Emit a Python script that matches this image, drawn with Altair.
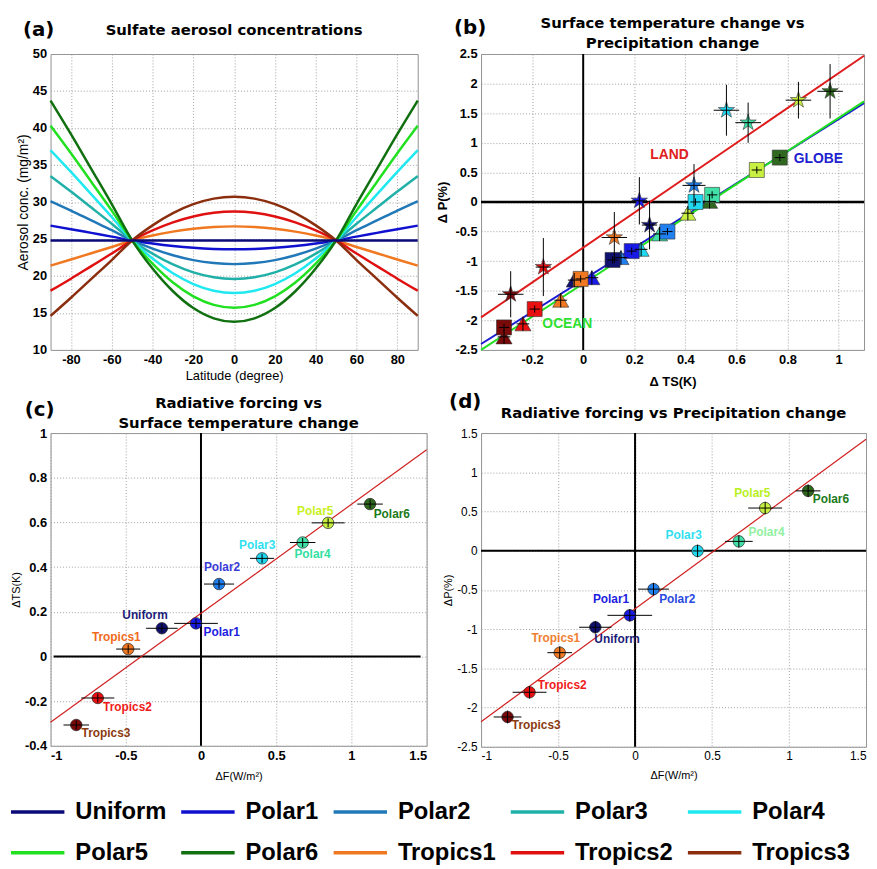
import altair as alt
import pandas as pd

# ---------------- data ----------------
names = ["Uniform", "Polar1", "Polar2", "Polar3", "Polar4", "Polar5", "Polar6",
         "Tropics1", "Tropics2", "Tropics3"]
line_colors = ["#0a0a78", "#1010d0", "#2078b8", "#20b0a8", "#20e8f0", "#20e020",
               "#107010", "#f07820", "#e01010", "#8b2e0e"]
marker_colors = ["#10106e", "#1a1ae6", "#2080f0", "#20d8f0", "#40e0a8", "#c8f040",
                 "#306820", "#f07820", "#e81010", "#7a0a0a"]
label_colors_c = ["#1c1c78", "#2020e0", "#3a3ad8", "#30e0f0", "#30e0a0", "#c8f020",
                  "#1a7a1a", "#f06a1a", "#f01a1a", "#8b3a10"]
label_colors_d = ["#1c1c78", "#2020e0", "#2a4ae0", "#30e0f0", "#90f0a0", "#b8f020",
                  "#1a7a1a", "#f08030", "#f01a1a", "#8b3a10"]

# (a) latitude profiles of sulfate aerosol (mg/m2)
lat = [-90, -80, -70, -60, -50, -40, -30, -20, -10, 0, 10, 20, 30, 40, 50, 60, 70, 80, 90]
conc = {
    "Uniform":  [24.8, 24.8, 24.8, 24.8, 24.8, 24.8, 24.8, 24.8, 24.8, 24.8, 24.8, 24.8, 24.8, 24.8, 24.8, 24.8, 24.8, 24.8, 24.8],
    "Polar1":   [26.8, 26.32, 25.82, 25.32, 24.8, 24.39, 24.05, 23.8, 23.65, 23.6, 23.65, 23.8, 24.05, 24.39, 24.8, 25.32, 25.82, 26.32, 26.8],
    "Polar2":   [30.1, 28.83, 27.5, 26.18, 24.8, 23.7, 22.8, 22.14, 21.74, 21.6, 21.74, 22.14, 22.8, 23.7, 24.8, 26.18, 27.5, 28.83, 30.1],
    "Polar3":   [33.5, 31.41, 29.24, 27.06, 24.8, 23.01, 21.55, 20.48, 19.82, 19.6, 19.82, 20.48, 21.55, 23.01, 24.8, 27.06, 29.24, 31.41, 33.5],
    "Polar4":   [37.0, 34.07, 31.02, 27.97, 24.8, 22.35, 20.36, 18.9, 18.0, 17.7, 18.0, 18.9, 20.36, 22.35, 24.8, 27.97, 31.02, 34.07, 37.0],
    "Polar5":   [40.3, 36.58, 32.71, 28.83, 24.8, 21.66, 19.11, 17.24, 16.09, 15.7, 16.09, 17.24, 19.11, 21.66, 24.8, 28.83, 32.71, 36.58, 40.3],
    "Polar6":   [43.7, 39.16, 34.44, 29.71, 24.8, 21.0, 17.93, 15.66, 14.27, 13.8, 14.27, 15.66, 17.93, 21.0, 24.8, 29.71, 34.44, 39.16, 43.7],
    "Tropics1": [21.4, 22.22, 23.07, 23.92, 24.8, 25.46, 25.99, 26.38, 26.62, 26.7, 26.62, 26.38, 25.99, 25.46, 24.8, 23.92, 23.07, 22.22, 21.4],
    "Tropics2": [18.0, 19.63, 21.33, 23.03, 24.8, 26.15, 27.24, 28.04, 28.53, 28.7, 28.53, 28.04, 27.24, 26.15, 24.8, 23.03, 21.33, 19.63, 18.0],
    "Tropics3": [14.6, 17.05, 19.6, 22.15, 24.8, 26.84, 28.49, 29.7, 30.45, 30.7, 30.45, 29.7, 28.49, 26.84, 24.8, 22.15, 19.6, 17.05, 14.6],
}

# (b) surface temperature change vs precipitation change
land_ts = [0.26, 0.22, 0.434, 0.561, 0.646, 0.843, 0.967, 0.122, -0.156, -0.284]
land_p = [-0.39, 0.02, 0.28, 1.55, 1.34, 1.72, 1.87, -0.60, -1.10, -1.56]
land_ts_err = [0.03, 0.03, 0.045, 0.05, 0.05, 0.05, 0.05, 0.05, 0.03, 0.05]
land_p_err = [0.41, 0.40, 0.36, 0.43, 0.34, 0.31, 0.46, 0.43, 0.49, 0.39]
ocean_ts = [-0.035, 0.034, 0.148, 0.227, 0.299, 0.41, 0.495, -0.088, -0.236, -0.31]
ocean_p = [-1.32, -1.28, -0.94, -0.80, -0.54, -0.19, 0.01, -1.66, -2.06, -2.28]
ocean_ts_err = [0.025, 0.025, 0.025, 0.025, 0.025, 0.025, 0.025, 0.025, 0.025, 0.025]
ocean_p_err = [0.12, 0.12, 0.12, 0.12, 0.12, 0.12, 0.12, 0.12, 0.12, 0.12]
globe_ts = [0.115, 0.19, 0.33, 0.44, 0.505, 0.68, 0.77, -0.01, -0.19, -0.31]
globe_p = [-0.98, -0.83, -0.50, 0.0, 0.12, 0.54, 0.75, -1.30, -1.81, -2.12]
globe_ts_err = [0.02, 0.02, 0.02, 0.02, 0.02, 0.02, 0.02, 0.02, 0.02, 0.02]
globe_p_err = [0.06, 0.06, 0.06, 0.06, 0.06, 0.06, 0.06, 0.06, 0.06, 0.06]
fit_b_ts = [-0.4, 1.1]
fit_land = [-1.95, 2.47]
fit_globe = [-2.40, 1.67]
fit_ocean = [-2.50, 1.70]

# (c), (d) radiative forcing vs temperature / precipitation change
dF_c = [-0.26, -0.033, 0.12, 0.406, 0.676, 0.845, 1.124, -0.484, -0.686, -0.829]
dTS_c = [0.126, 0.148, 0.324, 0.439, 0.51, 0.598, 0.682, 0.033, -0.186, -0.307]
dF_err_c = [0.105, 0.145, 0.10, 0.08, 0.085, 0.11, 0.085, 0.08, 0.11, 0.085]
dTS_err_c = [0.02, 0.02, 0.02, 0.02, 0.02, 0.02, 0.02, 0.02, 0.02, 0.02]
dF_d = [-0.258, -0.034, 0.12, 0.406, 0.674, 0.845, 1.124, -0.489, -0.685, -0.828]
dP_d = [-0.976, -0.824, -0.49, -0.003, 0.119, 0.544, 0.763, -1.30, -1.805, -2.12]
dF_err_d = [0.105, 0.145, 0.10, 0.03, 0.09, 0.11, 0.08, 0.08, 0.11, 0.09]
dP_err_d = [0.08, 0.08, 0.08, 0.08, 0.08, 0.08, 0.08, 0.08, 0.08, 0.08]
fit_cd_F = [-1.0, 1.5]
fit_c_TS = [-0.295, 0.925]
fit_d_P = [-2.18, 1.42]

# label placement (pixels, relative to the point)
off_c = {"Uniform": (-17, -13), "Polar1": (26, 9), "Polar2": (3, -17), "Polar3": (-5, -13),
         "Polar4": (10, 12), "Polar5": (-13, -12), "Polar6": (22, 10), "Tropics1": (-12, -12),
         "Tropics2": (30, 9), "Tropics3": (30, 8)}
off_d = {"Uniform": (22, 12), "Polar1": (-19, -16), "Polar2": (24, 10), "Polar3": (-14, -16),
         "Polar4": (28, -9), "Polar5": (-13, -15), "Polar6": (23, 8), "Tropics1": (-4, -15),
         "Tropics2": (33, -7), "Tropics3": (29, 8)}

# ---------------- helpers ----------------
FONT = "Liberation Sans"
TFONT = "DejaVu Sans"
LBL = "replace(format(datum.value, '~g'), '\u2212', '-')"
STAR = ("M0,-1L0.2245,-0.309L0.951,-0.309L0.363,0.118L0.588,0.809L0,0.382"
        "L-0.588,0.809L-0.363,0.118L-0.951,-0.309L-0.2245,-0.309Z")


def axis(values, title, lbl_w="bold", lbl_s=13, t_w="normal", t_s=13, tpad=3):
    return alt.Axis(values=values, tickCount=len(values) + 2, title=title, labelExpr=LBL,
                    labelOverlap=False,
                    labelFont=FONT, labelFontSize=lbl_s, labelFontWeight=lbl_w,
                    titleFont=FONT, titleFontSize=t_s, titleFontWeight=t_w,
                    labelPadding=4, titlePadding=tpad)


def letter(txt, x, y):
    return alt.Chart(pd.DataFrame({"t": [txt]})).mark_text(
        font=TFONT, fontSize=20, fontWeight="bold", align="center", baseline="middle",
        color="black").encode(x=alt.value(x), y=alt.value(y), text="t:N")


def head(lines, w, y):
    return alt.Chart(pd.DataFrame({"t": ["\n".join(lines)]})).mark_text(
        font=TFONT, fontSize=15, fontWeight="bold", align="center", baseline="middle",
        lineBreak="\n", lineHeight=20, color="black").encode(
        x=alt.value(w / 2), y=alt.value(y), text="t:N")


# ---------------- panel (a) ----------------
draw_order = names[1:] + names[:1]
df_a = pd.DataFrame([{"exp": n, "lat": la, "conc": v}
                     for n in draw_order for la, v in zip(lat, conc[n])])
xa = alt.X("lat:Q", scale=alt.Scale(domain=[-90, 90], nice=False, zero=False),
           axis=axis(list(range(-80, 81, 20)), "Latitude (degree)"))
ya = alt.Y("conc:Q", scale=alt.Scale(domain=[10, 50], nice=False, zero=False),
           axis=axis(list(range(10, 51, 5)), "Aerosol conc. (mg/m\u00b2)", t_s=14, tpad=2))
lines_a = alt.Chart(df_a).mark_line(strokeWidth=2.5, interpolate="monotone").encode(
    x=xa, y=ya,
    color=alt.Color("exp:N", sort=names, scale=alt.Scale(domain=names, range=line_colors),
                    legend=alt.Legend(orient="none", legendX=-25, legendY=754, columns=5,
                                      direction="horizontal",
                                      title=None, symbolType="M-3,0H3", symbolSize=324,
                                      symbolStrokeWidth=3.5, labelFont=FONT, labelFontSize=24,
                                      labelFontWeight="bold", labelColor="black",
                                      labelOffset=26, columnPadding=8, rowPadding=17,
                                      labelLimit=400, padding=0)),
)
pa = alt.layer(lines_a, letter("(a)", -12, -24),
               head(["Sulfate aerosol concentrations"], 371, -24)).properties(
    width=371, height=299)

# ---------------- panel (b) ----------------
def bframe(kind, ts, p, tse, pe):
    return pd.DataFrame({"exp": names, "kind": kind, "ts": ts, "p": p,
                         "ts_lo": [a - b for a, b in zip(ts, tse)],
                         "ts_hi": [a + b for a, b in zip(ts, tse)],
                         "p_lo": [a - b for a, b in zip(p, pe)],
                         "p_hi": [a + b for a, b in zip(p, pe)],
                         "fill": marker_colors})

df_b = pd.concat([bframe("ocean", ocean_ts, ocean_p, ocean_ts_err, ocean_p_err),
                  bframe("globe", globe_ts, globe_p, globe_ts_err, globe_p_err),
                  bframe("land", land_ts, land_p, land_ts_err, land_p_err)], ignore_index=True)
xb_scale = alt.Scale(domain=[-0.4, 1.1], nice=False, zero=False)
yb_scale = alt.Scale(domain=[-2.5, 2.5], nice=False, zero=False)
xb = alt.X("ts:Q", scale=xb_scale,
           axis=axis([-0.2, 0, 0.2, 0.4, 0.6, 0.8, 1.0], "\u0394 TS(K)", t_w="bold", tpad=9))
yb = alt.Y("p:Q", scale=yb_scale,
           axis=axis([-2.5, -2, -1.5, -1, -0.5, 0, 0.5, 1, 1.5, 2, 2.5], "\u0394 P(%)",
                     t_w="bold", tpad=6))

fit_b = pd.DataFrame({"ts": fit_b_ts * 3, "p": fit_land + fit_globe + fit_ocean,
                      "fit": ["LAND"] * 2 + ["GLOBE"] * 2 + ["OCEAN"] * 2,
                      "c": ["#e01b1b"] * 2 + ["#1a1ad0"] * 2 + ["#20e020"] * 2})
fit_lines_b = alt.Chart(fit_b).mark_line(strokeWidth=2).encode(
    x=xb, y=yb, color=alt.Color("c:N", scale=None), detail="fit:N")
zero_b_h = alt.Chart(pd.DataFrame({"p": [0]})).mark_rule(color="black", strokeWidth=2.5).encode(
    y=alt.Y("p:Q", scale=yb_scale))
zero_b_v = alt.Chart(pd.DataFrame({"ts": [0]})).mark_rule(color="black", strokeWidth=2).encode(
    x=alt.X("ts:Q", scale=xb_scale))
marks_b = alt.Chart(df_b).mark_point(filled=True, stroke="#333333", strokeWidth=0.6,
                                     opacity=1).encode(
    x=xb, y=yb,
    shape=alt.Shape("kind:N", scale=alt.Scale(domain=["land", "ocean", "globe"],
                                              range=[STAR, "triangle-up", "square"]), legend=None),
    size=alt.Size("kind:N", scale=alt.Scale(domain=["land", "ocean", "globe"],
                                            range=[300, 230, 85]), legend=None),
    fill=alt.Fill("fill:N", scale=None))
errx_b = alt.Chart(df_b).mark_rule(color="black", strokeWidth=1).encode(
    x=alt.X("ts_lo:Q", scale=xb_scale), x2="ts_hi:Q", y=alt.Y("p:Q", scale=yb_scale))
erry_b = alt.Chart(df_b).mark_rule(color="black", strokeWidth=1).encode(
    x=alt.X("ts:Q", scale=xb_scale), y=alt.Y("p_lo:Q", scale=yb_scale), y2="p_hi:Q")
txt_b = pd.DataFrame({"ts": [0.338, 0.921, -0.062], "p": [0.80, 0.72, -2.06],
                      "t": ["LAND", "GLOBE", "OCEAN"], "c": ["#e02020", "#2020d0", "#30e030"]})
labels_b = alt.Chart(txt_b).mark_text(font=FONT, fontSize=14, fontWeight="bold").encode(
    x=alt.X("ts:Q", scale=xb_scale), y=alt.Y("p:Q", scale=yb_scale), text="t:N",
    color=alt.Color("c:N", scale=None))
pb = alt.layer(zero_b_h, zero_b_v, fit_lines_b, marks_b, errx_b, erry_b, labels_b,
               letter("(b)", -11, -26),
               head(["Surface temperature change vs", "Precipitation change"], 387, -31)
               ).properties(width=387, height=299)


# ---------------- panels (c) and (d) ----------------
def scatter_panel(xs, ys, xe, ye, xdom, ydom, xvals, yvals, xtitle, ytitle, fit_x, fit_y,
                  lbl_cols, offs, hline_x, lbl_w, lbl_s):
    df = pd.DataFrame({"exp": names, "x": xs, "y": ys,
                       "x_lo": [a - b for a, b in zip(xs, xe)],
                       "x_hi": [a + b for a, b in zip(xs, xe)],
                       "y_lo": [a - b for a, b in zip(ys, ye)],
                       "y_hi": [a + b for a, b in zip(ys, ye)],
                       "fill": marker_colors, "lc": lbl_cols})
    xs_ = alt.Scale(domain=xdom, nice=False, zero=False)
    ys_ = alt.Scale(domain=ydom, nice=False, zero=False)
    X = alt.X("x:Q", scale=xs_, axis=axis(xvals, xtitle, lbl_w=lbl_w, lbl_s=lbl_s, t_s=11,
                                          tpad=8))
    Y = alt.Y("y:Q", scale=ys_, axis=axis(yvals, ytitle, lbl_w=lbl_w, lbl_s=lbl_s, t_s=11))
    fit = alt.Chart(pd.DataFrame({"x": fit_x, "y": fit_y})).mark_line(
        color="#d02020", strokeWidth=1.2).encode(x=X, y=Y)
    hz = alt.Chart(pd.DataFrame({"x": [hline_x[0]], "x2": [hline_x[1]], "y": [0]})).mark_rule(
        color="black", strokeWidth=2).encode(x=alt.X("x:Q", scale=xs_), x2="x2:Q",
                                             y=alt.Y("y:Q", scale=ys_))
    vz = alt.Chart(pd.DataFrame({"x": [0]})).mark_rule(color="black", strokeWidth=2).encode(
        x=alt.X("x:Q", scale=xs_))
    pts = alt.Chart(df).mark_circle(size=135, opacity=1, stroke="#222222",
                                    strokeWidth=0.7).encode(
        x=X, y=Y, color=alt.Color("fill:N", scale=None))
    ex = alt.Chart(df).mark_rule(color="black", strokeWidth=1).encode(
        x=alt.X("x_lo:Q", scale=xs_), x2="x_hi:Q", y=alt.Y("y:Q", scale=ys_))
    ey = alt.Chart(df).mark_rule(color="black", strokeWidth=1).encode(
        x=alt.X("x:Q", scale=xs_), y=alt.Y("y_lo:Q", scale=ys_), y2="y_hi:Q")
    layers = [hz, vz, fit, pts, ex, ey]
    for i, n in enumerate(names):
        dx, dy = offs[n]
        layers.append(alt.Chart(df.iloc[[i]]).mark_text(
            font=FONT, fontSize=12, fontWeight="bold", dx=dx, dy=dy).encode(
            x=alt.X("x:Q", scale=xs_), y=alt.Y("y:Q", scale=ys_), text="exp:N",
            color=alt.Color("lc:N", scale=None)))
    return layers


pc = alt.layer(*scatter_panel(
    dF_c, dTS_c, dF_err_c, dTS_err_c, [-1, 1.5], [-0.4, 1.0],
    [-1, -0.5, 0, 0.5, 1, 1.5], [-0.4, -0.2, 0, 0.2, 0.4, 0.6, 0.8, 1.0],
    "\u0394F(W/m\u00b2)", "\u0394TS(K)", fit_cd_F, fit_c_TS,
    label_colors_c, off_c, [-0.98, 1.46], "bold", 13),
    letter("(c)", -11, -23),
    head(["Radiative forcing vs", "Surface temperature change"], 380, -30)
).properties(width=380, height=316)

pd_ = alt.layer(*scatter_panel(
    dF_d, dP_d, dF_err_d, dP_err_d, [-1, 1.5], [-2.5, 1.5],
    [-1, -0.5, 0, 0.5, 1, 1.5], [-2.5, -2, -1.5, -1, -0.5, 0, 0.5, 1, 1.5],
    "\u0394F(W/m\u00b2)", "\u0394P(%)", fit_cd_F, fit_d_P,
    label_colors_d, off_d, [-1, 1.5], "normal", 12),
    letter("(d)", -16, -31),
    head(["Radiative forcing vs Precipitation change"], 389, -20)
).properties(width=389, height=317)

chart = alt.concat(pa, pb, pc, pd_, columns=2, spacing={"row": 84, "column": 55},
                   bounds="flush").properties(
    padding={"left": 2, "top": 3, "right": 0, "bottom": 0}
).configure_view(stroke="#909090", strokeWidth=1).configure_axis(
    grid=True, gridDash=[1, 2], gridColor="#a0a0a0", gridWidth=1, domain=False, ticks=False,
    labelColor="black", titleColor="black")

chart.save("out.html", embed_options={"renderer": "svg", "actions": False})
